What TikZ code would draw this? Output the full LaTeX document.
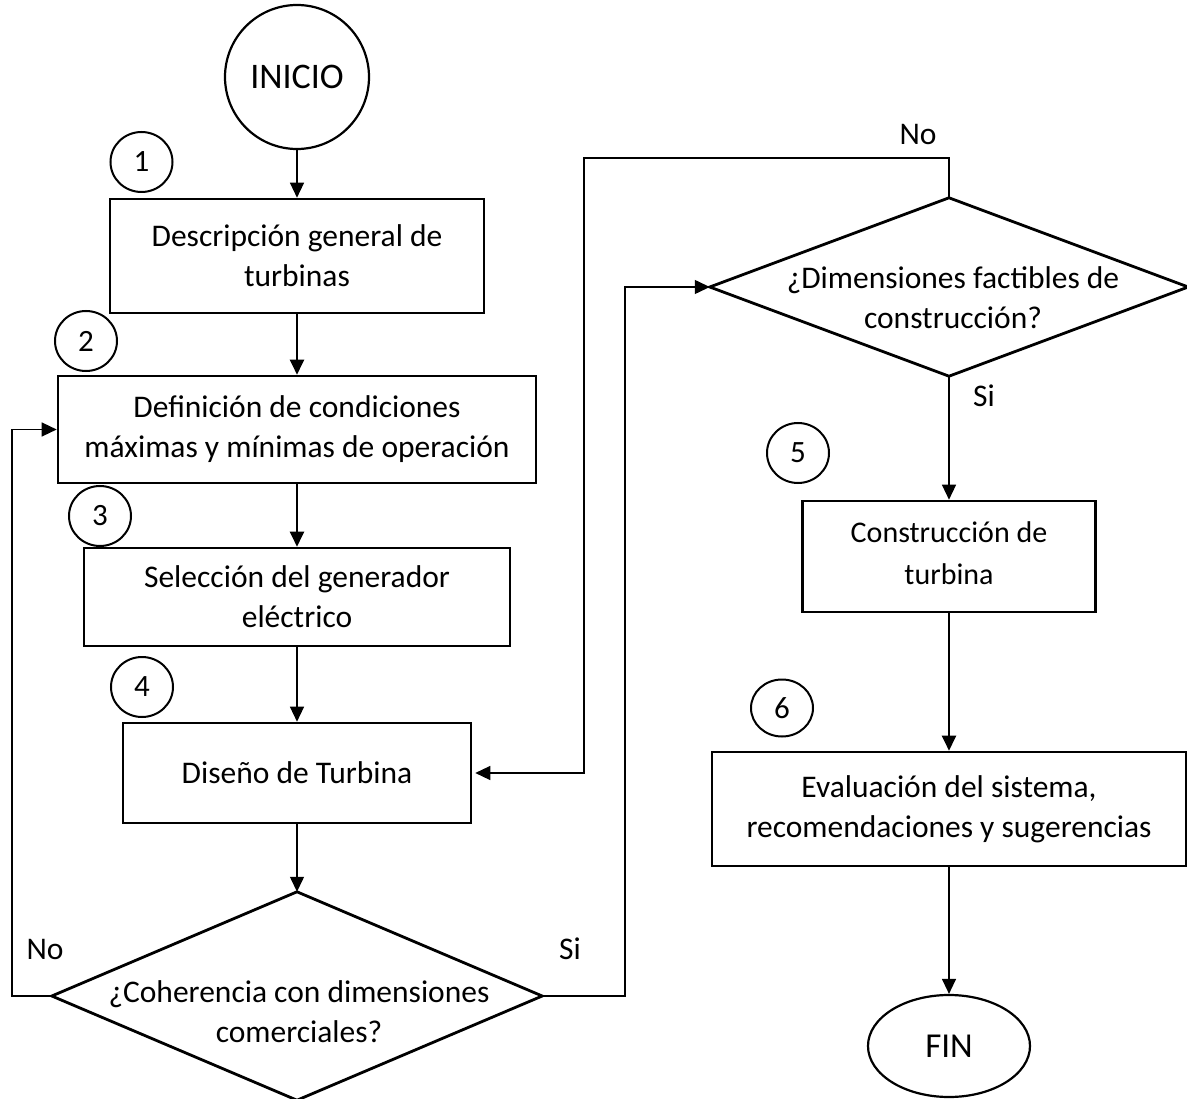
\documentclass[tikz,border=0pt]{standalone}
\usepackage{fontspec}
\setmainfont{Carlito}
\usetikzlibrary{arrows.meta,shapes.geometric}

\begin{document}
\begin{tikzpicture}[x=1pt,y=-1pt,
  txt/.style={font=\fontsize{31.5}{40}\selectfont,align=center,inner sep=0pt},
  box/.style={draw,line width=2.6pt,inner sep=0pt,align=center,
    font=\fontsize{31.5}{40}\selectfont},
  num/.style={draw,ellipse,line width=2pt,minimum width=62pt,minimum height=60pt,
    inner sep=0pt,font=\fontsize{31}{34}\selectfont},
  lbl/.style={inner sep=0pt,font=\fontsize{31.5}{34}\selectfont},
  dframe/.style={inner sep=0pt},
  dline/.style={line width=2.8pt,line join=miter},
  conn/.style={line width=1.3pt,-{Triangle[length=15pt,width=14pt]}},
  thickconn/.style={line width=2.3pt,-{Triangle[length=15pt,width=14pt]}}]
\useasboundingbox (0,0) rectangle (1187,1099);

% start and end terminals
\node[draw,circle,line width=2.2pt,minimum size=144pt,inner sep=0pt,
  font=\fontsize{36}{40}\selectfont] (start) at (297,77) {INICIO};
\node[draw,ellipse,line width=2.2pt,minimum width=162pt,minimum height=102pt,
  inner sep=0pt,font=\fontsize{35}{40}\selectfont] (fin) at (949,1046) {FIN};

% process boxes, left column
\node[box,minimum width=374pt,minimum height=114pt] (b1) at (297,256)
  {Descripción general de\\turbinas};
\node[box,minimum width=478pt,minimum height=107pt] (b2) at (297,429.5)
  {Definición de condiciones\\máximas y mínimas de operación};
\node[box,minimum width=426pt,minimum height=98pt] (b3) at (297,597)
  {Selección del generador\\eléctrico};
\node[box,minimum width=348pt,minimum height=100pt] (b4) at (297,773)
  {Diseño de Turbina};

% process boxes, right column
\node[box,minimum width=293pt,minimum height=111pt,
  font=\fontsize{30}{42}\selectfont] (b5) at (949,556.5) {};
\node[txt,font=\fontsize{30}{42}\selectfont] (b5t) at (949,553)
  {Construcción de\\turbina};
\node[box,minimum width=474pt,minimum height=114pt] (b6) at (949,809)
  {Evaluación del sistema,\\recomendaciones y sugerencias};

% decision diamonds
\node[dframe,minimum width=490pt,minimum height=208pt] (d1) at (297,996) {};
\draw[dline] (d1.north) -- (d1.east) -- (d1.south) -- (d1.west) -- cycle;
\node[txt] (d1t) at (299,1012) {¿Coherencia con dimensiones\\comerciales?};

\node[dframe,minimum width=478pt,minimum height=178pt] (d2) at (949,287) {};
\draw[dline] (d2.north) -- (d2.east) -- (d2.south) -- (d2.west) -- cycle;
\node[txt] (d2t) at (953,298) {¿Dimensiones factibles de\\construcción?};

% step numbers
\node[num] (n1) at (141.5,162) {1};
\node[num] (n2) at (86,341) {2};
\node[num] (n3) at (100,516) {3};
\node[num] (n4) at (142,687) {4};
\node[num] (n5) at (798,453) {5};
\node[num,minimum height=57pt] (n6) at (782,708) {6};

% main flow
\draw[conn] (start.south) -- (b1.north);
\draw[thickconn] (b1.south) -- (b2.north);
\draw[thickconn] (b2.south) -- (b3.north);
\draw[conn] (b3.south) -- (b4.north);
\draw[conn] (b4.south) -- (d1.north);
\draw[conn] (d2.south) -- (b5.north);
\draw[thickconn] (b5.south) -- (b6.north);
\draw[conn] (b6.south) -- (fin.north);

% decision branches
\coordinate (loopL) at (12,996);
\coordinate (loopR) at (625,996);
\coordinate (loopTop) at (584,158);
\draw[conn] (d1.west) -- (loopL) |- (b2.west);
\draw[conn] (d1.east) -- (loopR) |- (d2.west);
\draw[conn,shorten >=3pt] (d2.north) |- (loopTop) |- (b4.east);

% branch labels
\node[lbl] (noTop) at (918,135) {No};
\node[lbl] (siR) at (984,396) {Si};
\node[lbl] (noL) at (45,949) {No};
\node[lbl] (siL) at (570,949) {Si};
\end{tikzpicture}
\end{document}
